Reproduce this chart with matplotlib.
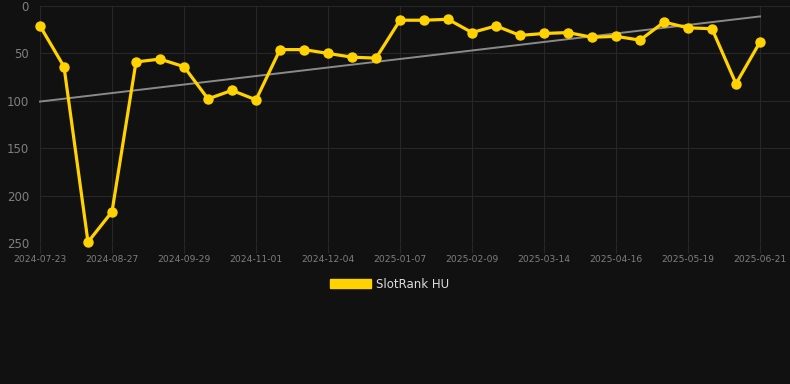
import matplotlib

matplotlib.use("Agg")
import matplotlib.pyplot as plt
import numpy as np
from matplotlib.patches import Patch

# rank per snapshot (lower is better)
ranks = [21, 64, 249, 217, 59, 56, 64, 98, 89, 99,
         46, 46, 50, 54, 55, 15, 15, 14, 28, 21,
         31, 29, 28, 33, 32, 36, 17, 23, 24, 82, 38]
tick_every = 3
tick_labels = ["2024-07-23", "2024-08-27", "2024-09-29", "2024-11-01",
               "2024-12-04", "2025-01-07", "2025-02-09", "2025-03-14",
               "2025-04-16", "2025-05-19", "2025-06-21"]
series_name = "SlotRank HU"

BG = "#111111"
GOLD = "#FFD200"
GRID = "#272727"

x = np.arange(len(ranks))
slope, icept = np.polyfit(x, ranks, 1)

fig = plt.figure(figsize=(7.9, 3.84), dpi=100, facecolor=BG)
ax = fig.add_axes([40 / 790, 1 - 243 / 384, 750 / 790, 237 / 384], facecolor=BG)

ax.plot(x, slope * x + icept, color="#8a8a8a", lw=1.4, zorder=2, clip_on=False)
ax.plot(x, ranks, "-o", color=GOLD, lw=2.3, ms=6.5, zorder=3, clip_on=False)

ax.set_xlim(0, len(ranks) - 1 + 30 / 24)
ax.set_ylim(250, 0)
ax.set_yticks([0, 50, 100, 150, 200, 250])
ax.set_xticks(x[::tick_every])
ax.set_xticklabels(tick_labels)

ax.grid(True, color=GRID, lw=0.8)
for s in ax.spines.values():
    s.set_visible(False)
ax.tick_params(axis="y", colors="#7f7f7f", labelsize=8.5, length=0, pad=8)
ax.tick_params(axis="x", colors=GRID, labelcolor="#7f7f7f", labelsize=6.6,
               length=7, width=0.8, pad=2)

fig.legend(handles=[Patch(facecolor=GOLD, edgecolor=GOLD)], labels=[series_name],
           loc="center", bbox_to_anchor=(390 / 790, 1 - 284 / 384),
           frameon=False, fontsize=8.5, labelcolor="#dddddd",
           handlelength=3.4, handleheight=0.9, handletextpad=0.5)

fig.savefig("out.png", dpi=100, facecolor=BG)
